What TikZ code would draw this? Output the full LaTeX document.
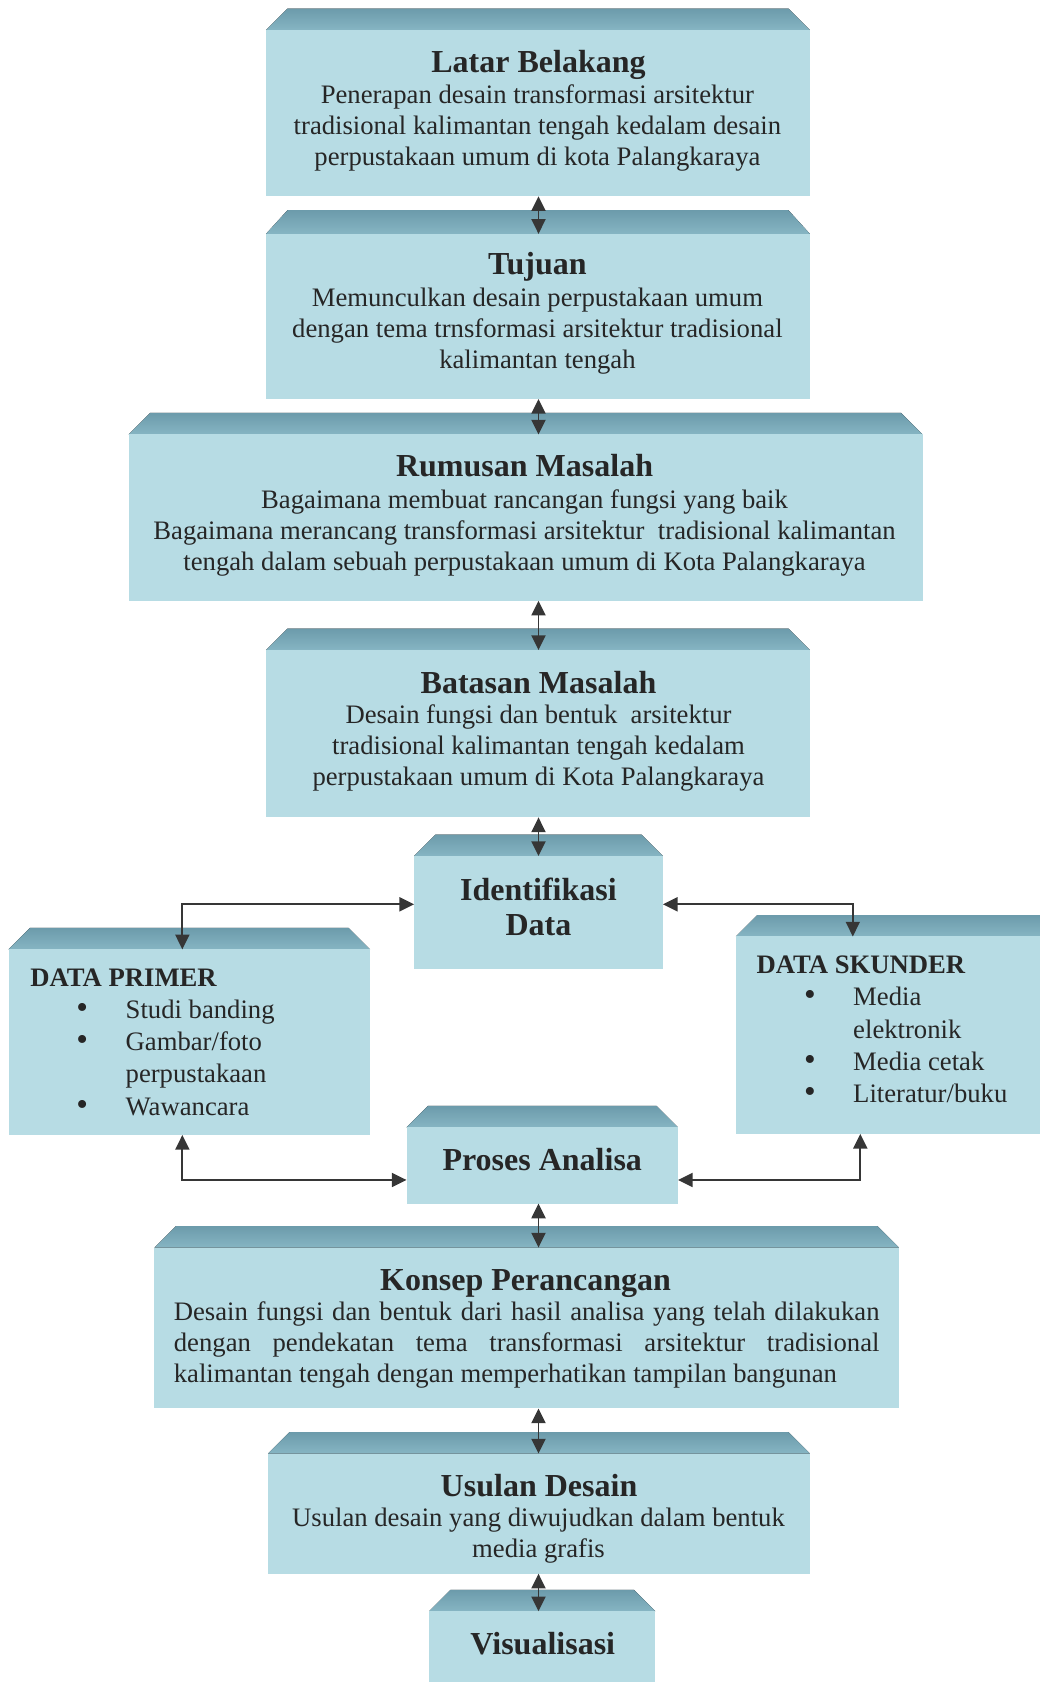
\documentclass[tikz,border=0pt]{standalone}
\usepackage{fontspec}
\setmainfont{Liberation Serif}
\usetikzlibrary{arrows.meta,fit}

\definecolor{facecol}{HTML}{B7DCE4}
\definecolor{bevtop}{HTML}{6C9BAB}
\definecolor{bevbot}{HTML}{86B5C3}
\definecolor{inkcol}{HTML}{262626}
\definecolor{arrowcol}{HTML}{363636}

\tikzset{
  face/.style={inner sep=0pt, outer sep=0pt, fill=facecol, draw=none},
  bevel/.style={top color=bevtop, bottom color=bevbot, draw=none},
  title/.style={font=\bfseries\fontsize{24}{26.5}\selectfont, text=inkcol,
                inner sep=0pt, align=center},
  body/.style={font=\fontsize{20}{23.3}\selectfont, text=inkcol,
               inner sep=0pt, align=center},
  listtext/.style={font=\fontsize{20}{24.1}\selectfont, text=inkcol,
                   inner sep=0pt, align=left, anchor=north west},
  conn/.style={draw=arrowcol, line width=1.4pt,
               {Triangle[length=11pt,width=10.5pt]}-{Triangle[length=11pt,width=10.5pt]}}
}

% slab: name, left, right, bevel top, face top, face bottom
\newcommand{\slab}[6]{%
  \fill[bevel] (#2+20,#4) -- (#3-20,#4) -- (#3,#5) -- (#2,#5) -- cycle;
  \node[face, fit={(#2,#5) (#3,#6)}] (#1) {};
}
% bullet item of the data lists
\newcommand{\itm}[1]{\hspace*{#1}\makebox[0pt][c]{\scalebox{1.25}{\textbullet}}}

\begin{document}
\begin{tikzpicture}[x=0.8042pt,y=-0.8042pt]
\useasboundingbox (0,0) rectangle (969,1568);

% blocks
\slab{lb}{248}{755}{8}{28}{183}
\slab{tj}{248}{755}{196}{218}{372}
\slab{rm}{120}{860}{385}{405}{560}
\slab{bm}{248}{755}{586}{606}{762}
\slab{id}{386}{618}{778}{798}{903}
\slab{dp}{8}{345}{865}{885}{1058}
\slab{ds}{686}{995}{853}{873}{1057}
\slab{pa}{379}{632}{1031}{1051}{1122}
\slab{kp}{144}{838}{1143}{1163}{1313}
\slab{ud}{250}{755}{1335}{1355}{1467}
\slab{vs}{400}{611}{1482}{1502}{1600}

% texts
\node[title] (lbt) at (502,60.5) {Latar Belakang};
\node[body] (lbb) at (501,119.5) {Penerapan desain transformasi arsitektur\\
  tradisional kalimantan tengah kedalam desain\\
  perpustakaan umum di kota Palangkaraya};

\node[title] (tjt) at (501,249) {Tujuan};
\node[body] (tjb) at (501,308.5) {Memunculkan desain perpustakaan umum\\
  dengan tema trnsformasi arsitektur tradisional\\
  kalimantan tengah};

\node[title] (rmt) at (489,434) {Rumusan Masalah};
\node[body] (rmb) at (489,496.5) {Bagaimana membuat rancangan fungsi yang baik\\
  Bagaimana merancang transformasi arsitektur\ \ tradisional kalimantan\\
  tengah dalam sebuah perpustakaan umum di Kota Palangkaraya};

\node[title] (bmt) at (502,636) {Batasan Masalah};
\node[body] (bmb) at (502,697.5) {Desain fungsi dan bentuk\ \ arsitektur\\
  tradisional kalimantan tengah kedalam\\
  perpustakaan umum di Kota Palangkaraya};

\node[title] (idt) at (502,845.5) {Identifikasi\\Data};

\node[listtext] (dpt) at (28,903) {\textbf{DATA PRIMER}\\
  \itm{39pt}\hspace*{32.5pt}Studi banding\\
  \itm{39pt}\hspace*{32.5pt}Gambar/foto\\
  \hspace*{71.5pt}perpustakaan\\
  \itm{39pt}\hspace*{32.5pt}Wawancara};

\node[listtext] (dst) at (705,891) {\textbf{DATA SKUNDER}\\
  \itm{40pt}\hspace*{32.5pt}Media\\
  \hspace*{72.5pt}elektronik\\
  \itm{40pt}\hspace*{32.5pt}Media cetak\\
  \itm{40pt}\hspace*{32.5pt}Literatur/buku};

\node[title] (pat) at (505.5,1081) {Proses Analisa};

\node[title] (kpt) at (490,1196.5) {Konsep Perancangan};
\node[body, align=justify, text width=529pt] (kpb) at (491,1253.5)
  {Desain fungsi dan bentuk dari hasil analisa yang telah dilakukan\linebreak
   dengan pendekatan tema transformasi arsitektur tradisional\linebreak
   kalimantan tengah dengan memperhatikan tampilan bangunan};

\node[title] (udt) at (502.5,1385) {Usulan Desain};
\node[body] (udb) at (502,1431.5) {Usulan desain yang diwujudkan dalam bentuk\\
  media grafis};

\node[title] (vst) at (506,1532) {Visualisasi};

% connectors
\coordinate (ax) at (502,0);
\coordinate (ytop) at (0,843);
\coordinate (ybot) at (0,1100);
\coordinate (xl) at (170,0);
\coordinate (xr) at (795,0);
\coordinate (xr2) at (802,0);

\draw[conn] (ax |- lb.south) -- (ax |- tj.north);
\draw[conn] (ax |- tj.south) -- (ax |- rm.north);
\draw[conn] (ax |- rm.south) -- (ax |- bm.north);
\draw[conn] (ax |- bm.south) -- (ax |- id.north);
\draw[conn] (ytop -| id.west) -| (xl |- dp.north);
\draw[conn] (ytop -| id.east) -| (xr |- ds.north);
\draw[conn] (xl |- dp.south) |- (ybot -| pa.west);
\draw[conn] (xr2 |- ds.south) |- (ybot -| pa.east);
\draw[conn] (ax |- pa.south) -- (ax |- kp.north);
\draw[conn] (ax |- kp.south) -- (ax |- ud.north);
\draw[conn] (ax |- ud.south) -- (ax |- vs.north);
\end{tikzpicture}
\end{document}
